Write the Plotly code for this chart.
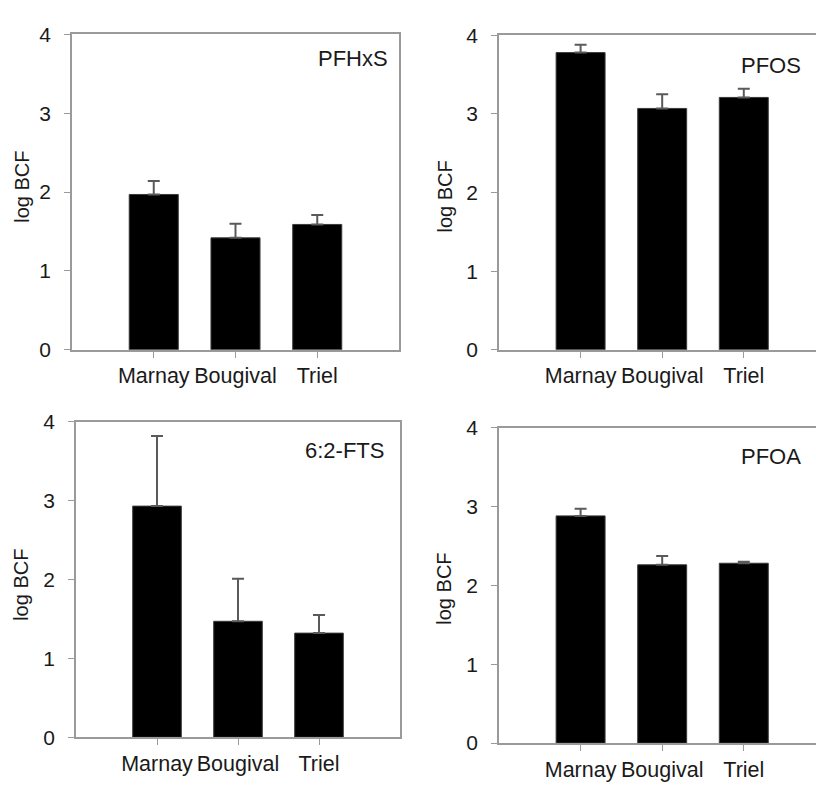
import plotly.graph_objects as go

sites = ["Marnay", "Bougival", "Triel"]
compounds = ["PFHxS", "PFOS", "6:2-FTS", "PFOA"]

pfhxs_mean = [1.97, 1.42, 1.59]
pfhxs_err = [0.17, 0.18, 0.12]
pfos_mean = [3.78, 3.07, 3.21]
pfos_err = [0.10, 0.18, 0.11]
fts_mean = [2.93, 1.47, 1.32]
fts_err = [0.89, 0.54, 0.23]
pfoa_mean = [2.88, 2.26, 2.28]
pfoa_err = [0.09, 0.11, 0.02]

y_ticks = [0, 1, 2, 3, 4]
y_label = "log BCF"

W, H = 816, 790


def px2x(p):
    return p / W


def px2y(p):
    return 1 - p / H


# panel layout: (x_left, x_right, y_top, y_bottom) in pixels, x range, mirror y
panels = [
    dict(means=pfhxs_mean, errs=pfhxs_err, box=(72, 399, 23, 348), xr=[-1, 3], ymirror=True,
         lab=(353, 48), ttl=(22, 180)),
    dict(means=pfos_mean, errs=pfos_err, box=(499, 816, 24, 348), xr=[-1, 2.885], ymirror=False,
         lab=(771, 55), ttl=(445, 190)),
    dict(means=fts_mean, errs=fts_err, box=(76, 400, 422, 747), xr=[-1, 3], ymirror=True,
         lab=(344, 452), ttl=(21, 590)),
    dict(means=pfoa_mean, errs=pfoa_err, box=(499, 816, 428, 753), xr=[-1, 2.885], ymirror=False,
         lab=(771, 458), ttl=(444, 594)),
]

FONT = "Liberation Sans, Arial, sans-serif"
TXT = "#1a1a1a"
AXC = "#9a9a9a"

fig = go.Figure()
layout = dict(
    width=W, height=H, margin=dict(l=0, r=0, t=0, b=0),
    paper_bgcolor="white", plot_bgcolor="white", showlegend=False,
    font=dict(family=FONT, color=TXT),
)
annotations = []

for i, p in enumerate(panels):
    n = i + 1
    xa = "x" if n == 1 else f"x{n}"
    ya = "y" if n == 1 else f"y{n}"
    fig.add_trace(go.Bar(
        x=list(range(len(sites))), y=p["means"], xaxis=xa, yaxis=ya,
        width=0.6,
        marker=dict(color="black", line=dict(color="#3a3a3a", width=1)),
        error_y=dict(type="data", array=p["errs"], arrayminus=[0] * len(sites),
                     symmetric=False, color="#5a5a5a", thickness=2, width=6),
    ))
    xl, xr_, yt, yb = p["box"]
    xkey = "xaxis" if n == 1 else f"xaxis{n}"
    ykey = "yaxis" if n == 1 else f"yaxis{n}"
    layout[xkey] = dict(
        domain=[px2x(xl), min(1.0, px2x(xr_))], anchor=ya, range=p["xr"],
        tickmode="array", tickvals=list(range(len(sites))), ticktext=sites,
        ticks="outside", ticklen=6, tickcolor=AXC, tickwidth=1,
        showline=True, linecolor=AXC, linewidth=1.5, mirror=True,
        showgrid=False, zeroline=False,
        tickfont=dict(size=21.5, family=FONT, color=TXT),
        ticklabelstandoff=0, fixedrange=True,
    )
    layout[ykey] = dict(
        domain=[px2y(yb), px2y(yt)], anchor=xa, range=[0, 4],
        tickmode="array", tickvals=y_ticks, ticktext=[str(v) for v in y_ticks],
        ticks="outside", ticklen=6, tickcolor=AXC, tickwidth=1,
        showline=True, linecolor=AXC, linewidth=1.5, mirror=p["ymirror"],
        showgrid=False, zeroline=False,
        tickfont=dict(size=21, family=FONT, color=TXT),
        ticklabelstandoff=9, fixedrange=True,
    )
    annotations.append(dict(
        text=compounds[i], xref="paper", yref="paper",
        x=px2x(p["lab"][0]), y=px2y(p["lab"][1]), xanchor="center", yanchor="middle",
        showarrow=False, font=dict(size=22, family=FONT, color=TXT),
    ))
    annotations.append(dict(
        text=y_label, xref="paper", yref="paper", textangle=-90,
        x=px2x(p["ttl"][0]), y=px2y(p["ttl"][1]), xanchor="center", yanchor="middle",
        showarrow=False, font=dict(size=20, family=FONT, color=TXT),
    ))

layout["annotations"] = annotations
fig.update_layout(**layout)
fig.write_html(
    "out.html",
    config={"displayModeBar": False},
    post_script="document.body.style.margin='0px';document.body.style.overflow='hidden';",
)
